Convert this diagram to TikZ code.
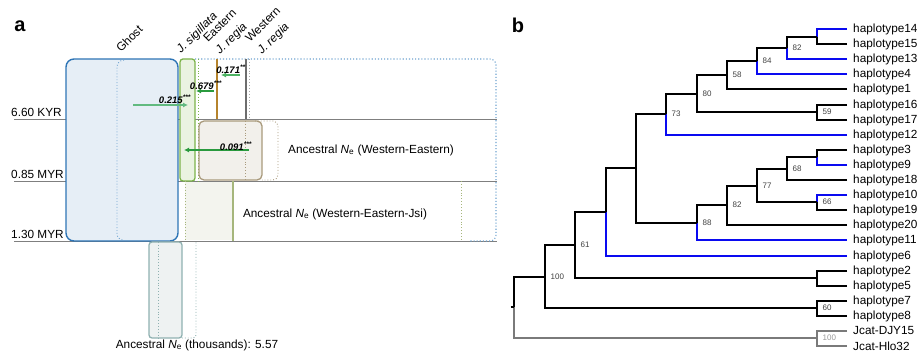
\documentclass[tikz,border=0pt]{standalone}
\usepackage{fontspec}
\setmainfont{Liberation Sans}
\usetikzlibrary{arrows.meta}
\definecolor{ghostfill}{HTML}{E6EEF6}
\definecolor{ghostline}{HTML}{2E75B6}
\definecolor{ghostdot}{HTML}{6FA3D0}
\definecolor{sigfill}{HTML}{EAF3E1}
\definecolor{sigline}{HTML}{7CB44A}
\definecolor{eastline}{HTML}{B5832C}
\definecolor{westline}{HTML}{6D6D6D}
\definecolor{anfill}{HTML}{F2F0EB}
\definecolor{anline}{HTML}{A99A7C}
\definecolor{jsifill}{HTML}{F3F4EE}
\definecolor{jsiline}{HTML}{A6B67C}
\definecolor{rootfill}{HTML}{EEF2F2}
\definecolor{rootline}{HTML}{8FB1B1}
\definecolor{timeline}{HTML}{7F7F7F}
\definecolor{migA}{HTML}{4DB363}
\definecolor{migB}{HTML}{2A9A3E}
\definecolor{migC}{HTML}{62BA80}
\definecolor{treeblue}{HTML}{0A0AF0}
\definecolor{treegrey}{HTML}{7A7A7A}
\newcommand\br[3][black]{\draw[tree,#1] (#3) -- (#2 |- #3) -- (#2);}
\begin{document}
\begin{tikzpicture}[x=1pt,y=-1pt,
  lbl/.style={font=\fontsize{11.8}{13}\selectfont, inner sep=0pt},
  rot/.style={lbl, rotate=45, anchor=base west},
  timel/.style={timeline, line width=0.9},
  mig/.style={-{Latex[length=5pt,width=5pt]}},
  miglbl/.style={font=\fontsize{9.5}{10}\selectfont\bfseries\itshape, inner sep=0pt},
  tree/.style={line width=2, line cap=butt, line join=miter},
  leaf/.style={font=\fontsize{11.8}{12}\selectfont, anchor=west, inner sep=0pt, inner xsep=6pt},
  boot/.style={font=\fontsize{8}{9}\selectfont, text=black!75, anchor=west, inner sep=0pt, xshift=5.5pt},
  panel/.style={font=\fontsize{20}{20}\selectfont\bfseries, inner sep=0pt}
]
\useasboundingbox (0,0) rectangle (919,352);

% ---------- panel a ----------
\node[panel] (pa) at (20,26) {a};

\draw[timel] (14,119.5) -- (497,119.5);
\draw[timel] (14,181) -- (497,181);
\draw[timel] (14,241) -- (497,241);
\node[lbl, anchor=base west] (t1) at (11,117) {6.60 KYR};
\node[lbl, anchor=base west] (t2) at (11,178.5) {0.85 MYR};
\node[lbl, anchor=base west] (t3) at (11,238.5) {1.30 MYR};

\draw[ghostdot, dotted, line width=1.1, rounded corners=6] (195,59) -- (496,59) -- (496,241) -- (470,241);

% ghost
\draw[ghostline, fill=ghostfill, line width=1.4, rounded corners=8] (66,59) rectangle (178,241);
\draw[ghostdot, dotted, line width=0.9] (124,60) to[out=180,in=90] (117,67) -- (117,234) to[out=-90,in=180] (124,240);

% J. sigillata
\draw[sigline, fill=sigfill, line width=1.3, rounded corners=3] (180,59) rectangle (195,181);
\draw[sigline, dotted, line width=0.9] (198,59) -- (198,181);

% Eastern / Western
\draw[eastline, line width=2] (217,59) -- (217,119.5);
\draw[westline, line width=2] (246,59) -- (246,119.5);
\draw[westline!60, dotted, line width=0.9] (249,59) -- (249,119.5);

% ancestral Western-Eastern
\draw[anline, fill=anfill, line width=1.3, rounded corners=5] (199,121) rectangle (262,180);
\draw[anline, dotted, line width=0.9] (245,121) -- (245,180);
\draw[anline, dotted, line width=0.9, rounded corners=5] (255,121) -- (278,121) -- (278,180) -- (262,180);

% ancestral Western-Eastern-Jsi
\fill[jsifill] (185,182) rectangle (233,240.5);
\draw[jsiline, line width=1.1] (233,181) -- (233,241);
\draw[jsiline, dotted, line width=0.9] (185,181) -- (185,241);
\draw[jsiline, dotted, line width=0.9] (461,181) -- (461,241);

% root ancestral
\draw[rootline, fill=rootfill, line width=1.3, rounded corners=3] (149,242) rectangle (182,338);
\draw[rootline, dotted, line width=0.9] (158,242) -- (158,338);
\draw[rootline, dotted, line width=0.9, rounded corners=3] (182,338) -- (196,338) -- (196,242);

\node[lbl] (anWE) at (371,150) {Ancestral \textit{N}\textsubscript{e} (Western-Eastern)};
\node[lbl] (anWEJ) at (335,214) {Ancestral \textit{N}\textsubscript{e} (Western-Eastern-Jsi)};
\node[lbl] (anR) at (197,345) {Ancestral \textit{N}\textsubscript{e} (thousands): 5.57};

% population labels
\node[rot] (gh) at (121,53) {Ghost};
\node[rot] (js) at (181,54) {\textit{J. sigillata}};
\node[rot] (e1) at (208,43) {Eastern};
\node[rot] (e2) at (220,55) {\textit{J. regia}};
\node[rot] (w1) at (250,43) {Western};
\node[rot] (w2) at (262,55) {\textit{J. regia}};

% migrations
\coordinate (m1s) at (240,75); \coordinate (m1e) at (221,75);
\coordinate (m2s) at (214,91); \coordinate (m2e) at (196,91);
\coordinate (m3s) at (133,105); \coordinate (m3e) at (188,105);
\coordinate (m4s) at (249,150); \coordinate (m4e) at (184,150);
\draw[mig, migA, line width=1.1] (m1s) -- (m1e);
\draw[mig, migB, line width=2.6] (m2s) -- (m2e);
\draw[mig, migC, line width=1.3] (m3s) -- (m3e);
\draw[mig, migB, line width=1.3] (m4s) -- (m4e);
\node[miglbl] (m1) at (231,69) {0.171\textsuperscript{**}};
\node[miglbl] (m2) at (206,85) {0.679\textsuperscript{***}};
\node[miglbl] (m3) at (175,99) {0.215\textsuperscript{***}};
\node[miglbl] (m4) at (236,146) {0.091\textsuperscript{***}};

% ---------- panel b ----------
\node[panel] (pb) at (518,25) {b};

\node[leaf] (h14) at (847,29) {haplotype14};
\node[leaf] (h15) at (847,44) {haplotype15};
\node[leaf] (h13) at (847,59) {haplotype13};
\node[leaf] (h4) at (847,74) {haplotype4};
\node[leaf] (h1) at (847,89) {haplotype1};
\node[leaf] (h16) at (847,105) {haplotype16};
\node[leaf] (h17) at (847,120) {haplotype17};
\node[leaf] (h12) at (847,135) {haplotype12};
\node[leaf] (h3) at (847,150) {haplotype3};
\node[leaf] (h9) at (847,165) {haplotype9};
\node[leaf] (h18) at (847,180) {haplotype18};
\node[leaf] (h10) at (847,195) {haplotype10};
\node[leaf] (h19) at (847,210) {haplotype19};
\node[leaf] (h20) at (847,225) {haplotype20};
\node[leaf] (h11) at (847,240) {haplotype11};
\node[leaf] (h6) at (847,256) {haplotype6};
\node[leaf] (h2) at (847,271) {haplotype2};
\node[leaf] (h5) at (847,286) {haplotype5};
\node[leaf] (h7) at (847,301) {haplotype7};
\node[leaf] (h8) at (847,316) {haplotype8};
\node[leaf] (dj) at (847,331) {Jcat-DJY15};
\node[leaf] (hl) at (847,346) {Jcat-Hlo32};

\coordinate (n1415) at (817,37);
\coordinate (n82a) at (787,48);
\coordinate (n84) at (757,61);
\coordinate (n58) at (727,75);
\coordinate (n59) at (817,112);
\coordinate (n80) at (697,94);
\coordinate (n73) at (666,114);
\coordinate (n39) at (817,157);
\coordinate (n68) at (787,169);
\coordinate (n66) at (817,202);
\coordinate (n77) at (757,186);
\coordinate (n82b) at (727,205);
\coordinate (n88) at (697,223);
\coordinate (nA) at (636,168);
\coordinate (nB) at (606,212);
\coordinate (n25) at (817,278);
\coordinate (n61) at (575,245);
\coordinate (n78) at (817,308);
\coordinate (n100) at (545,277);
\coordinate (nout) at (817,338);
\coordinate (root) at (514,307);
\coordinate (rootstub) at (510.5,307);

\br[treeblue]{n1415}{h14} \br{n1415}{h15}
\br{n82a}{n1415} \br[treeblue]{n82a}{h13}
\br{n84}{n82a} \br[treeblue]{n84}{h4}
\br{n58}{n84} \br{n58}{h1}
\br{n59}{h16} \br{n59}{h17}
\br{n80}{n58} \br{n80}{n59}
\br{n73}{n80} \br[treeblue]{n73}{h12}
\br{n39}{h3} \br[treeblue]{n39}{h9}
\br{n68}{n39} \br{n68}{h18}
\br[treeblue]{n66}{h10} \br{n66}{h19}
\br{n77}{n68} \br{n77}{n66}
\br{n82b}{n77} \br{n82b}{h20}
\br{n88}{n82b} \br[treeblue]{n88}{h11}
\br{nA}{n73} \br{nA}{n88}
\br{nB}{nA} \br[treeblue]{nB}{h6}
\br{n25}{h2} \br{n25}{h5}
\br{n61}{nB} \br{n61}{n25}
\br{n78}{h7} \br{n78}{h8}
\br{n100}{n61} \br{n100}{n78}
\br[treegrey]{nout}{dj} \br[treegrey]{nout}{hl}
\br{root}{n100} \br[treegrey]{root}{nout}
\draw[tree] (rootstub) -- (root);

\node[boot] (b82a) at (n82a) {82};
\node[boot] (b84) at (n84) {84};
\node[boot] (b58) at (n58) {58};
\node[boot] (b80) at (n80) {80};
\node[boot] (b59) at (n59) {59};
\node[boot] (b73) at (n73) {73};
\node[boot] (b68) at (n68) {68};
\node[boot] (b77) at (n77) {77};
\node[boot] (b66) at (n66) {66};
\node[boot] (b82b) at (n82b) {82};
\node[boot] (b88) at (n88) {88};
\node[boot] (b61) at (n61) {61};
\node[boot] (b100) at (n100) {100};
\node[boot] (b60) at (n78) {60};
\node[boot, text=black!40] (bout) at (nout) {100};
\end{tikzpicture}
\end{document}
